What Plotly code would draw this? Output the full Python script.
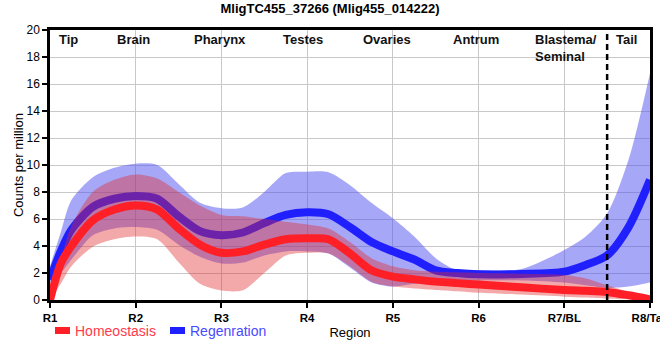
import plotly.graph_objects as go

# ---------------- data ----------------
title_text = "MligTC455_37266 (Mlig455_014222)"
region_ticks = [1, 2, 3, 4, 5, 6, 7, 8]
region_tick_labels = ["R1", "R2", "R3", "R4", "R5", "R6", "R7/BL", "R8/Tail"]
tissue_names = ["Tip", "Brain", "Pharynx", "Testes", "Ovaries", "Antrum", "Blastema/<br>Seminal", "Tail"]
tissue_x = [1.22, 1.97, 2.98, 3.95, 4.93, 5.97, 6.63, 7.72]
tail_boundary = 7.5
series_names = ["Homeostasis", "Regenration"]

pos = [1, 1.125, 1.25, 1.5, 1.75, 2, 2.25, 2.5, 2.75, 3, 3.25, 3.5, 3.75, 4,
       4.25, 4.5, 4.75, 5, 5.25, 5.5, 5.75, 6, 6.5, 7, 7.25, 7.5, 7.75, 8]

homeo_mean = [0.0, 2.7, 4.0, 5.9, 6.7, 7.0, 6.7, 5.3, 4.1, 3.5, 3.6, 4.1, 4.5, 4.57,
              4.5, 3.45, 2.2, 1.73, 1.53, 1.36, 1.25, 1.15, 0.94, 0.74, 0.68, 0.6, 0.35, 0.05]
homeo_low = [0.0, 1.2, 2.5, 3.95, 4.5, 4.7, 4.5, 2.8, 1.2, 0.7, 0.72, 2.0, 3.3, 3.5,
             3.45, 2.5, 1.36, 1.0, 0.86, 0.75, 0.65, 0.54, 0.4, 0.25, 0.18, 0.1, 0.05, 0.0]
homeo_high = [0.3, 3.0, 5.5, 8.0, 8.9, 9.3, 9.0, 8.0, 7.0, 6.3, 6.2, 6.0, 5.8, 5.6,
              5.3, 4.3, 3.1, 2.5, 2.2, 2.1, 2.05, 2.0, 1.95, 1.85, 1.6, 1.1, 0.6, 0.0]

regen_mean = [1.5, 3.6, 5.2, 6.9, 7.5, 7.7, 7.5, 6.2, 5.1, 4.8, 5.0, 5.7, 6.3, 6.5,
              6.35, 5.4, 4.3, 3.6, 3.0, 2.2, 2.0, 1.9, 1.93, 2.1, 2.6, 3.3, 5.4, 8.9]
regen_low = [1.3, 2.0, 3.0, 4.8, 5.3, 5.4, 5.2, 4.1, 3.2, 2.7, 2.77, 3.3, 3.6, 3.6,
             3.45, 2.4, 1.3, 1.0, 1.2, 1.35, 1.4, 1.45, 1.45, 1.3, 1.1, 0.9, 1.0, 1.3]
regen_high = [2.5, 5.0, 7.4, 9.1, 9.8, 10.1, 10.0, 8.6, 7.2, 6.8, 6.85, 8.0, 9.4, 9.5,
              9.46, 8.5, 7.2, 6.05, 4.7, 3.1, 2.2, 2.2, 2.3, 3.7, 4.7, 6.4, 10.4, 16.8]

FONT = "Liberation Sans, Arial, sans-serif"
RED_LINE = "#ff1f26"
BLUE_LINE = "#2020ff"
RED_BAND = "rgba(225,40,40,0.4)"
BLUE_BAND = "rgba(80,80,240,0.5)"
RED_TEXT = "#ff3a4a"
BLUE_TEXT = "#4a4aff"
SMOOTH = 0.8

fig = go.Figure()


def add_series(label, mean, low, high, line_color, band_color):
    fig.add_trace(go.Scatter(x=pos, y=low, mode="lines",
                             line=dict(width=0, shape="spline", smoothing=SMOOTH, color=band_color),
                             showlegend=False, hoverinfo="skip"))
    fig.add_trace(go.Scatter(x=pos, y=high, mode="lines", fill="tonexty",
                             fillcolor=band_color,
                             line=dict(width=0, shape="spline", smoothing=SMOOTH, color=band_color),
                             showlegend=False, hoverinfo="skip"))
    fig.add_trace(go.Scatter(x=pos, y=mean, mode="lines", name=label, showlegend=False,
                             line=dict(width=8, shape="spline", smoothing=SMOOTH, color=line_color)))


add_series(series_names[1], regen_mean, regen_low, regen_high, BLUE_LINE, BLUE_BAND)
add_series(series_names[0], homeo_mean, homeo_low, homeo_high, RED_LINE, RED_BAND)

# tissue labels
for name, xv in zip(tissue_names, tissue_x):
    two_line = "<br>" in name
    fig.add_annotation(x=xv, y=1, xref="x", yref="paper", text="<b>" + name + "</b>",
                       showarrow=False, xanchor="left" if two_line else "center",
                       yanchor="top", align="left", yshift=0,
                       font=dict(family=FONT, size=13, color="#111111"))

fig.add_shape(type="line", x0=tail_boundary, x1=tail_boundary, y0=0, y1=1,
              xref="x", yref="paper", line=dict(color="black", width=2.5, dash="6px,4px"))

# legend (drawn below the plot area, in paper coordinates)
PW, PH = 600.0, 270.0
legend_items = [(series_names[0], RED_LINE, RED_TEXT, 55), (series_names[1], BLUE_LINE, BLUE_TEXT, 170)]
for label, sym_color, txt_color, px in legend_items:
    x0 = (px - 50) / PW
    fig.add_shape(type="rect", xref="paper", yref="paper",
                  x0=x0, x1=x0 + 15 / PW, y0=(300 - 334) / PH, y1=(300 - 327) / PH,
                  fillcolor=sym_color, line=dict(width=0))
    fig.add_annotation(x=x0 + 19 / PW, y=(300 - 331) / PH, xref="paper", yref="paper",
                       text=label, showarrow=False, xanchor="left", yanchor="middle",
                       borderpad=0,
                       font=dict(family=FONT, size=14, color=txt_color))

fig.update_layout(
    width=660, height=360,
    margin=dict(l=50, r=10, t=30, b=60, autoexpand=False),
    paper_bgcolor="white", plot_bgcolor="white",
    title=dict(text="<b>" + title_text + "</b>", x=0.5, xanchor="center",
               y=1 - 8.5 / 360, yanchor="middle",
               font=dict(family=FONT, size=13, color="black")),
    font=dict(family=FONT, color="black"),
    showlegend=False,
)

fig.update_xaxes(range=[1, 8], tickvals=region_ticks, ticktext=region_tick_labels,
                 showgrid=True, gridcolor="#c8c8c8", gridwidth=1,
                 showline=True, linecolor="black", linewidth=2.5, mirror=True,
                 ticks="outside", ticklen=5, tickcolor="black", tickwidth=1.5,
                 tickfont=dict(family=FONT, size=11.5, color="black", weight="bold"),
                 ticklabeloverflow="allow",
                 zeroline=False, automargin=False,
                 title=dict(text="Region", font=dict(family=FONT, size=13), standoff=6))
fig.update_yaxes(range=[0, 20], tickvals=list(range(0, 21, 2)),
                 showgrid=True, gridcolor="#c8c8c8", gridwidth=1,
                 showline=True, linecolor="black", linewidth=2.5, mirror=True,
                 ticks="outside", ticklen=5, tickcolor="black", tickwidth=1.5,
                 tickfont=dict(family=FONT, size=12, color="black"),
                 zeroline=False, automargin=False,
                 title=dict(text="Counts per million", font=dict(family=FONT, size=13), standoff=0))

fig.write_html("out.html", config={"displayModeBar": False},
               post_script="document.body.style.margin='0';")
